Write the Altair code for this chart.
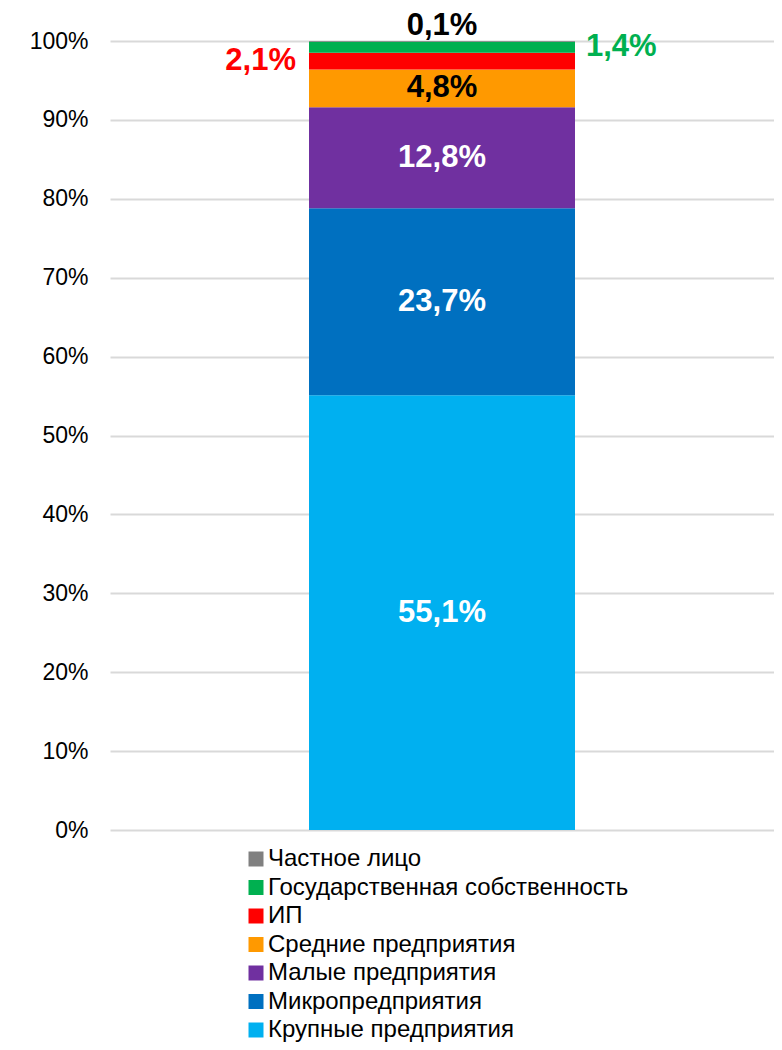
import altair as alt
import pandas as pd

categories = ["Крупные предприятия", "Микропредприятия", "Малые предприятия",
              "Средние предприятия", "ИП", "Государственная собственность", "Частное лицо"]
values = [55.1, 23.7, 12.8, 4.8, 2.1, 1.4, 0.1]
colors = ["#00b0f0", "#0070c0", "#7030a0", "#ff9900", "#ff0000", "#00b050", "#808080"]
labels = ["55,1%", "23,7%", "12,8%", "4,8%", "2,1%", "1,4%", "0,1%"]
label_colors = ["#ffffff", "#ffffff", "#ffffff", "#000000", "#ff0000", "#00b050", "#000000"]
placements = ["mid", "mid", "mid", "mid", "left", "right", "top"]
y_ticks = [0, 10, 20, 30, 40, 50, 60, 70, 80, 90, 100]

legend_order = list(reversed(categories))
legend_colors = list(reversed(colors))

df = pd.DataFrame({
    "cat": categories,
    "value": values,
    "order": list(range(len(categories))),
    "label": labels,
    "lc": label_colors,
    "place": placements,
    "x": ["A"] * len(categories),
})
df["end"] = df["value"].cumsum()
df["start"] = df["end"] - df["value"]
df["mid"] = (df["start"] + df["end"]) / 2

FONT = "Liberation Sans"
LFS = 31

x_enc = alt.X("x:N", axis=None, scale=alt.Scale(paddingInner=0, paddingOuter=0))
y_scale = alt.Scale(domain=[0, 100], nice=False, zero=True)

base = alt.Chart(df)

bars = base.mark_bar(width=266).encode(
    x=x_enc,
    y=alt.Y("start:Q", scale=y_scale,
            axis=alt.Axis(values=y_ticks, labelExpr="datum.value + '%'",
                          title=None, domain=False, ticks=False, grid=True,
                          gridColor="#d9d9d9", gridWidth=2,
                          labelFontSize=23, labelColor="#000000",
                          labelFont=FONT, labelPadding=22)),
    y2="end:Q",
    color=alt.Color("cat:N",
                    scale=alt.Scale(domain=legend_order, range=legend_colors),
                    legend=alt.Legend(title=None, orient="none", legendX=134, legendY=806,
                                      direction="vertical", symbolType="square",
                                      symbolSize=225, symbolStrokeWidth=0,
                                      labelFontSize=24, labelFont=FONT, labelColor="#000000",
                                      labelOffset=0, rowPadding=4.5, padding=0,
                                      labelLimit=500)),
    order=alt.Order("order:Q"),
)

def text_layer(place, **mk):
    return base.transform_filter(alt.datum.place == place).mark_text(
        font=FONT, fontSize=LFS, fontWeight="bold", **mk
    ).encode(
        x=x_enc,
        y=alt.Y("mid:Q" if place != "top" else "end:Q", scale=y_scale),
        text="label:N",
        color=alt.Color("lc:N", scale=None),
    )

t_mid = text_layer("mid", align="center", baseline="middle")
t_left = text_layer("left", align="right", baseline="middle", dx=-146)
t_right = text_layer("right", align="left", baseline="middle", dx=144)
t_top = text_layer("top", align="center", baseline="alphabetic", dy=-6)

chart = alt.layer(bars, t_mid, t_left, t_right, t_top).properties(
    width=664, height=789,
    autosize=alt.AutoSizeParams(type="none"),
    padding={"left": 102, "top": 33, "right": 0, "bottom": 212},
).configure(background="#ffffff", view=alt.ViewConfig(stroke=None))

chart.save("out.html", embed_options={"renderer": "svg", "actions": False})
